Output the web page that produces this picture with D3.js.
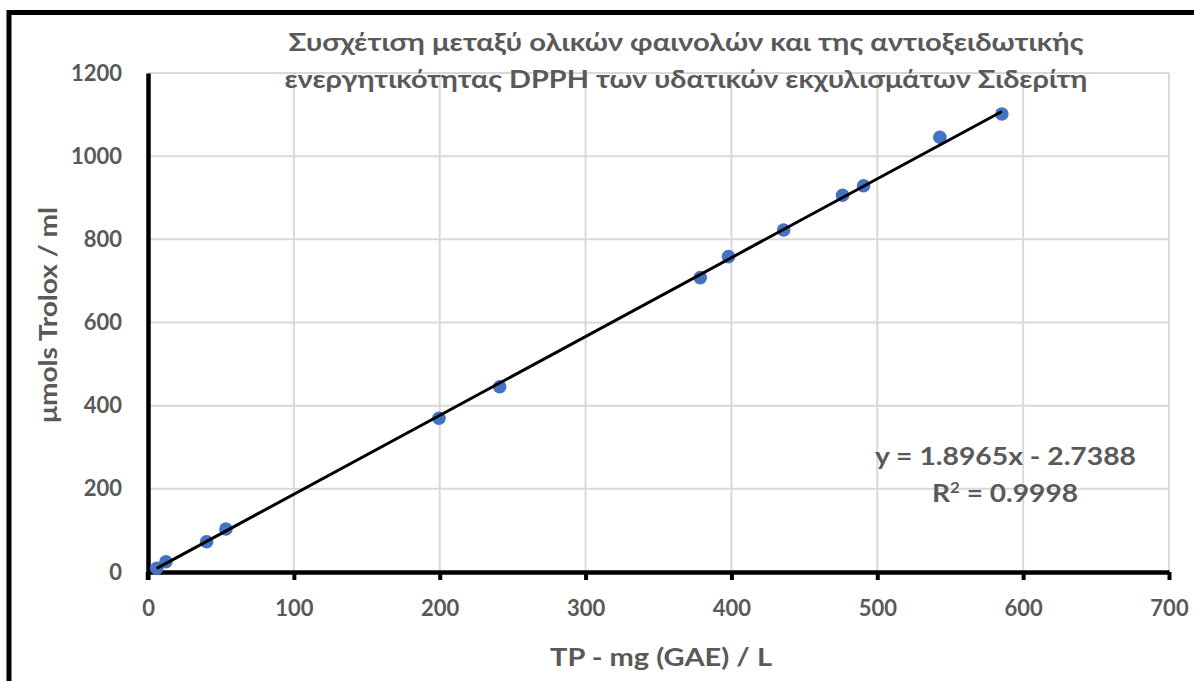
<!DOCTYPE html>
<html><head><meta charset="utf-8">
<script src="https://cdn.jsdelivr.net/npm/d3@7/dist/d3.min.js"></script>
<style>body{margin:0;background:#fff}svg{display:block}</style>
</head><body>
<script>
const tpValues = [6.0, 12.3, 40.2, 53.4, 199.5, 241.1, 378.6, 398.0, 435.8, 476.2, 490.6, 542.9, 585.4];
const troloxValues = [8.9, 24.8, 72.9, 103.4, 369.6, 445.6, 707.8, 758.3, 822.5, 906.0, 929.0, 1045.5, 1101.5];
const xTicks = [0, 100, 200, 300, 400, 500, 600, 700];
const yTicks = [0, 200, 400, 600, 800, 1000, 1200];
const slope = 1.8965, intercept = -2.7388;
const titleLines = ["Συσχέτιση μεταξύ ολικών φαινολών και της αντιοξειδωτικής", "ενεργητικότητας DPPH των υδατικών εκχυλισμάτων Σιδερίτη"];
const xTitle = "TP - mg (GAE) / L";
const yTitle = "μmols Trolox / ml";
const eqText = "y = 1.8965x - 2.7388";
const r2Text = "0.9998";

const W = 1194, H = 681;
const font = "Lato, 'Open Sans', sans-serif";
const gray = "#595959";
const svg = d3.select("body").append("svg").attr("width", W).attr("height", H);

const x = d3.scaleLinear().domain([0, 700]).range([148, 1169]);
const y = d3.scaleLinear().domain([0, 1200]).range([572, 73]);

// frame
svg.append("rect").attr("x", 9).attr("y", 12.5).attr("width", 1400).attr("height", 1000)
  .attr("fill", "none").attr("stroke", "#000").attr("stroke-width", 5);

// gridlines
svg.append("g").selectAll("line").data(xTicks.filter(d => d > 0)).join("line")
  .attr("x1", d => x(d)).attr("x2", d => x(d)).attr("y1", y(1200)).attr("y2", y(0))
  .attr("stroke", "#d9d9d9").attr("stroke-width", 2);
svg.append("g").selectAll("line").data(yTicks.filter(d => d > 0)).join("line")
  .attr("x1", x(0)).attr("x2", x(700)).attr("y1", d => y(d)).attr("y2", d => y(d))
  .attr("stroke", "#d9d9d9").attr("stroke-width", 2);

// axes
const xAxis = svg.append("g").attr("transform", `translate(0,${y(0)})`)
  .call(d3.axisBottom(x).tickValues(xTicks).tickFormat(d3.format("d")).tickSize(8).tickSizeOuter(0).tickPadding(20));
xAxis.select(".domain").attr("stroke", "#000").attr("stroke-width", 4.5);
xAxis.selectAll(".tick line").attr("stroke", "#000").attr("stroke-width", 4);
xAxis.selectAll(".tick text").attr("fill", gray).attr("font-family", font).attr("font-weight", "bold").attr("font-size", 22);

const yAxis = svg.append("g").attr("transform", `translate(${x(0)},0)`)
  .call(d3.axisLeft(y).tickValues(yTicks).tickFormat(d3.format("d")).tickSize(0).tickSizeOuter(0).tickPadding(26));
yAxis.select(".domain").attr("stroke", "#000").attr("stroke-width", 4.5);
yAxis.selectAll(".tick text").attr("fill", gray).attr("font-family", font).attr("font-weight", "bold").attr("font-size", 22);
svg.append("line").attr("x1", x(0)).attr("x2", x(0)).attr("y1", y(0)).attr("y2", y(0) + 8)
  .attr("stroke", "#000").attr("stroke-width", 4.5);

// points
svg.append("g").selectAll("circle").data(tpValues.map((v, i) => [v, troloxValues[i]])).join("circle")
  .attr("cx", d => x(d[0])).attr("cy", d => y(d[1])).attr("r", 6.8).attr("fill", "#4472C4");

// trendline
const xmin = d3.min(tpValues), xmax = d3.max(tpValues);
svg.append("line")
  .attr("x1", x(xmin)).attr("y1", y(slope * xmin + intercept))
  .attr("x2", x(xmax)).attr("y2", y(slope * xmax + intercept))
  .attr("stroke", "#000").attr("stroke-width", 3);

// title
const tWidths = [795, 803];
titleLines.forEach((t, i) => {
  svg.append("text").attr("x", 686).attr("y", [51, 88][i]).attr("text-anchor", "middle")
    .attr("fill", gray).attr("font-family", font).attr("font-weight", "bold").attr("font-size", 24)
    .attr("textLength", tWidths[i]).attr("lengthAdjust", "spacingAndGlyphs").text(t);
});

// axis titles
svg.append("text").attr("x", 661).attr("y", 666).attr("text-anchor", "middle")
  .attr("fill", gray).attr("font-family", font).attr("font-weight", "bold").attr("font-size", 24)
  .attr("textLength", 222).attr("lengthAdjust", "spacingAndGlyphs").text(xTitle);
svg.append("text").attr("transform", "translate(57,315) rotate(-90)").attr("text-anchor", "middle")
  .attr("fill", gray).attr("font-family", font).attr("font-weight", "bold").attr("font-size", 24)
  .attr("textLength", 216).attr("lengthAdjust", "spacingAndGlyphs").text(yTitle);

// equation
svg.append("text").attr("x", 1005.5).attr("y", 465).attr("text-anchor", "middle")
  .attr("fill", gray).attr("font-family", font).attr("font-weight", "bold").attr("font-size", 25)
  .attr("textLength", 261).attr("lengthAdjust", "spacingAndGlyphs").text(eqText);
const r2 = svg.append("text").attr("x", 1005).attr("y", 502).attr("text-anchor", "middle")
  .attr("fill", gray).attr("font-family", font).attr("font-weight", "bold").attr("font-size", 25)
  .attr("textLength", 146).attr("lengthAdjust", "spacingAndGlyphs");
r2.append("tspan").text("R");
r2.append("tspan").attr("dy", -9).attr("font-size", 15).text("2");
r2.append("tspan").attr("dy", 9).text(" = " + r2Text);
</script>
</body></html>
